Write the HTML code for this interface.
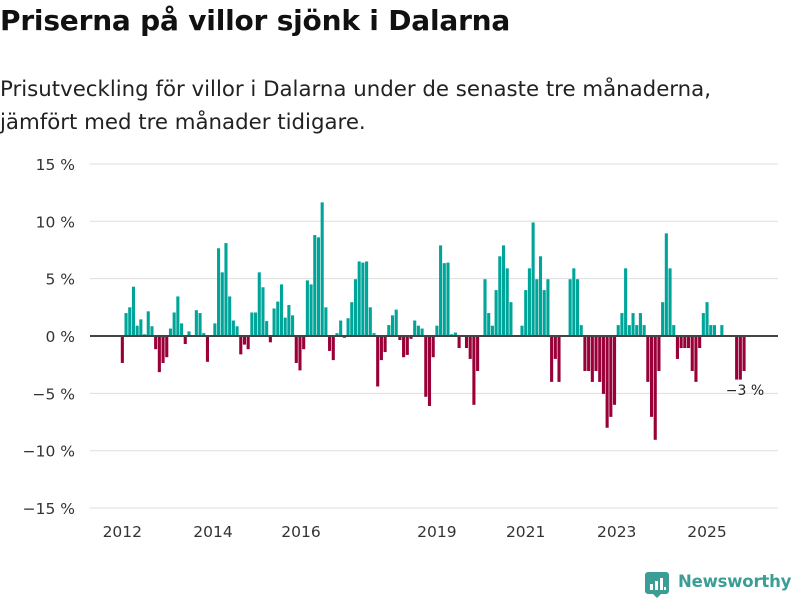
<!DOCTYPE html>
<html><head><meta charset="utf-8">
<style>
body{margin:0;background:#fff;width:800px;height:600px;overflow:hidden;font-family:"DejaVu Sans",sans-serif;}
#title{position:absolute;left:0;top:4px;font-family:"DejaVu Sans",sans-serif;font-size:28px;font-weight:bold;color:#111;margin:0;letter-spacing:-0.2px}
#sub{position:absolute;left:0;top:73px;font-family:"DejaVu Sans",sans-serif;font-size:21.3px;color:#222;line-height:33px;margin:0;letter-spacing:0px}
svg{position:absolute;left:0;top:0}
</style></head><body>
<h1 id="title">Priserna på villor sjönk i Dalarna</h1>
<p id="sub">Prisutveckling för villor i Dalarna under de senaste tre månaderna,<br>jämfört med tre månader tidigare.</p>
<svg id="chart" width="800" height="600"></svg>
<script>
const values = [-2.35,2.0,2.5,4.3,0.9,1.45,0.15,2.15,0.85,-1.15,-3.15,-2.35,-1.85,0.65,2.05,3.45,1.1,-0.7,0.4,0,2.25,2.0,0.25,-2.25,0,1.1,7.65,5.55,8.1,3.45,1.35,0.85,-1.6,-0.75,-1.15,2.05,2.05,5.55,4.25,1.3,-0.55,2.4,3.0,4.5,1.6,2.7,1.8,-2.35,-3.0,-1.15,4.85,4.5,8.8,8.6,11.65,2.5,-1.3,-2.1,0.25,1.35,-0.15,1.55,2.95,4.95,6.5,6.4,6.5,2.5,0.25,-4.4,-2.1,-1.4,0.95,1.8,2.3,-0.35,-1.85,-1.65,-0.25,1.35,0.9,0.65,-5.3,-6.1,-1.85,0.9,7.9,6.35,6.4,0.15,0.3,-1.05,0,-1.05,-2.0,-6.0,-3.05,0,4.95,2.0,0.9,4.0,6.95,7.9,5.9,2.95,0,0,0.9,4.0,5.9,9.9,4.95,6.95,4.0,4.95,-4.0,-2.0,-4.0,0,0,4.95,5.9,4.95,0.95,-3.05,-3.05,-4.0,-3.05,-4.0,-5.05,-8.0,-7.05,-6.0,0.95,2.0,5.9,0.95,2.0,0.95,2.0,0.95,-4.0,-7.05,-9.05,-3.05,2.95,8.95,5.9,0.95,-2.0,-1.05,-1.05,-1.05,-3.05,-4.0,-1.05,2.0,2.95,0.95,0.95,0,0.95,0,0,0,-3.8,-3.8,-3.05];
const yTicks = [15,10,5,0,-5,-10,-15];
const yTickLabels = ["15 %","10 %","5 %","0 %","\u22125 %","\u221210 %","\u221215 %"];
const xTickLabels = ["2012","2014","2016","2019","2021","2023","2025"];
const xTickIndex = [0,24.5,48.3,85,109,133.6,158];
const lastLabel = "\u22123 %";

const NS="http://www.w3.org/2000/svg";
const svg=document.getElementById('chart');
const x0=122.3, x1=744, n=values.length;
const step=(x1-x0)/(n-1);
const xs=i=>x0+i*step;
const ys=v=>336-v*11.47;
const FF='DejaVu Sans, sans-serif';
function mk(t,a){const e=document.createElementNS(NS,t);for(const k in a)e.setAttribute(k,a[k]);svg.appendChild(e);return e;}
yTicks.forEach((t,i)=>{
  if(t!==0){const l=mk('line',{x1:90,x2:778,y1:ys(t),y2:ys(t),stroke:'#dedede','stroke-width':1});
  
  }
  const tx=mk('text',{x:75,y:ys(t)+6,'text-anchor':'end','font-size':15.5,fill:'#333','font-family':FF});
  tx.textContent=yTickLabels[i];
  
  
});
xTickLabels.forEach((lab,i)=>{
  const tx=mk('text',{x:xs(xTickIndex[i]),y:537,'text-anchor':'middle','font-size':15.5,fill:'#333','font-family':FF});
  tx.textContent=lab;
  
  
});
values.forEach((v,i)=>{
  if(v===0)return;
  const y=ys(Math.max(v,0)), h=Math.abs(ys(v)-ys(0));
  const r=mk('rect',{x:xs(i)-1.5,y:y,width:3.1,height:h,fill:v>0?'#00a59a':'#990038'});
  
  
});
const z=mk('line',{x1:90,x2:778,y1:ys(0),y2:ys(0),stroke:'#444','stroke-width':2});


const ll=mk('text',{x:xs(n-1)+1,y:ys(values[n-1])+24,'text-anchor':'middle','font-size':14,fill:'#222','font-family':FF});
ll.textContent=lastLabel;


</script>
<div style="position:absolute;left:645px;top:571px;width:155px;height:28px;">
  <svg width="26" height="28" style="position:absolute;left:0;top:0">
    <path d="M3 1h18a3 3 0 0 1 3 3v16a3 3 0 0 1-3 3h-5l-4 4-4-4H3a3 3 0 0 1-3-3V4a3 3 0 0 1 3-3z" fill="#3a9e96"/>
    <rect x="5" y="13" width="3" height="6" fill="#fff"/><rect x="10" y="10" width="3" height="9" fill="#fff"/><rect x="15" y="7" width="3" height="12" fill="#fff"/><rect x="19" y="16" width="2" height="3" fill="#fff"/>
  </svg>
  <span style="position:absolute;left:33px;top:1px;font-family:'DejaVu Sans',sans-serif;font-size:16.5px;font-weight:bold;color:#3a9e96;letter-spacing:-0.2px">Newsworthy</span>
</div>
</body></html>
